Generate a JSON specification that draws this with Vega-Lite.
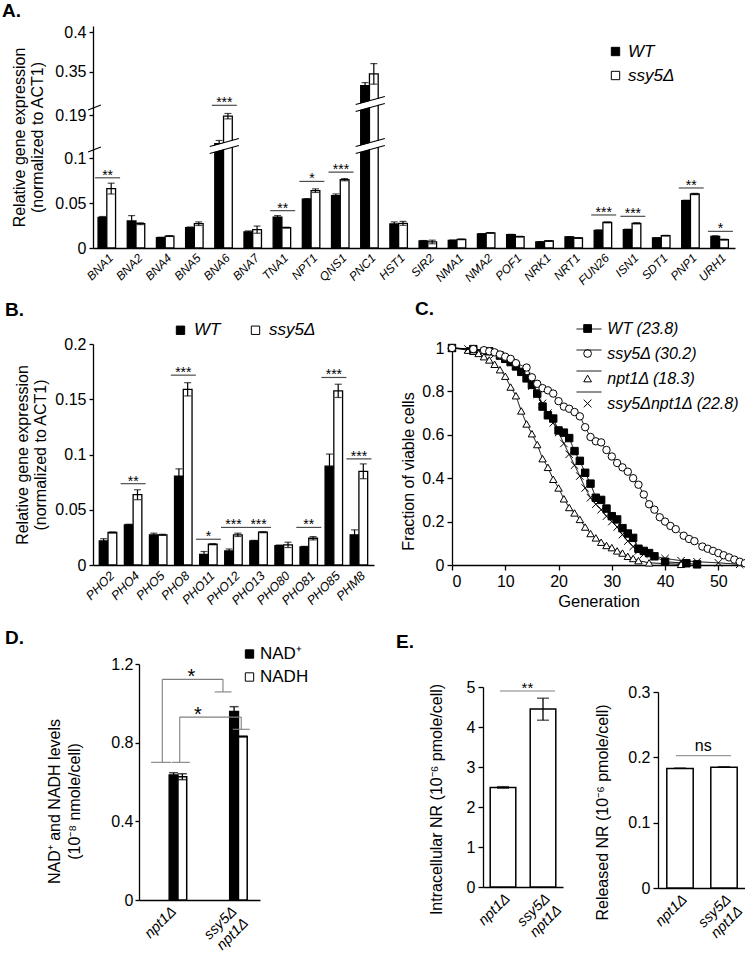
{
  "$schema": "https://vega.github.io/schema/vega-lite/v6.json",
  "background": "white",
  "padding": {"left": 2, "top": 2, "right": 0, "bottom": 0},
  "spacing": 0,
  "resolve": {"scale": {"fill": "independent", "shape": "independent", "color": "independent", "strokeWidth": "independent", "strokeDash": "independent"}, "legend": {"fill": "independent", "shape": "independent", "color": "independent", "strokeWidth": "independent", "strokeDash": "independent"}},
  "config": {
    "font": "Liberation Sans",
    "view": {"stroke": null},
    "axis": {"grid": false, "domainColor": "black", "domainWidth": 1.3, "tickColor": "black", "tickWidth": 1.3, "tickSize": 4, "labelColor": "black", "titleColor": "black", "labelFont": "Liberation Sans", "titleFont": "Liberation Sans", "labelFontSize": 16, "titleFontSize": 16, "titleFontWeight": "normal", "labelPadding": 3, "labelOverlap": false},
    "legend": {"labelFont": "Liberation Sans", "labelColor": "black", "padding": 0},
    "title": {"font": "Liberation Sans", "fontSize": 19, "fontWeight": "bold", "color": "black", "anchor": "start", "frame": "group", "offset": 0, "baseline": "alphabetic"},
    "text": {"font": "Liberation Sans", "color": "black"}
  },
  "datasets": {
    "a": [
      {"gene": "BNA1", "strain": "WT", "value": 0.034, "lo": 0.033, "hi": 0.035},
      {"gene": "BNA1", "strain": "ssy5Δ", "value": 0.066, "lo": 0.06, "hi": 0.072},
      {"gene": "BNA2", "strain": "WT", "value": 0.03, "lo": 0.024, "hi": 0.036},
      {"gene": "BNA2", "strain": "ssy5Δ", "value": 0.027, "lo": 0.026, "hi": 0.028},
      {"gene": "BNA4", "strain": "WT", "value": 0.0115, "lo": 0.011, "hi": 0.012},
      {"gene": "BNA4", "strain": "ssy5Δ", "value": 0.0133, "lo": 0.0128, "hi": 0.0138},
      {"gene": "BNA5", "strain": "WT", "value": 0.0226, "lo": 0.0218, "hi": 0.0234},
      {"gene": "BNA5", "strain": "ssy5Δ", "value": 0.027, "lo": 0.025, "hi": 0.029},
      {"gene": "BNA6", "strain": "WT", "value": 0.149, "lo": 0.136, "hi": 0.162},
      {"gene": "BNA6", "strain": "ssy5Δ", "value": 0.189, "lo": 0.186, "hi": 0.192},
      {"gene": "BNA7", "strain": "WT", "value": 0.018, "lo": 0.017, "hi": 0.019},
      {"gene": "BNA7", "strain": "ssy5Δ", "value": 0.0204, "lo": 0.0164, "hi": 0.0244},
      {"gene": "TNA1", "strain": "WT", "value": 0.0344, "lo": 0.0328, "hi": 0.036},
      {"gene": "TNA1", "strain": "ssy5Δ", "value": 0.0226, "lo": 0.0221, "hi": 0.0231},
      {"gene": "NPT1", "strain": "WT", "value": 0.0544, "lo": 0.0539, "hi": 0.0549},
      {"gene": "NPT1", "strain": "ssy5Δ", "value": 0.0637, "lo": 0.0617, "hi": 0.0657},
      {"gene": "QNS1", "strain": "WT", "value": 0.0581, "lo": 0.0561, "hi": 0.0601},
      {"gene": "QNS1", "strain": "ssy5Δ", "value": 0.0759, "lo": 0.0747, "hi": 0.0771},
      {"gene": "PNC1", "strain": "WT", "value": 0.332, "lo": 0.328, "hi": 0.336},
      {"gene": "PNC1", "strain": "ssy5Δ", "value": 0.347, "lo": 0.334, "hi": 0.36},
      {"gene": "HST1", "strain": "WT", "value": 0.0267, "lo": 0.0244, "hi": 0.029},
      {"gene": "HST1", "strain": "ssy5Δ", "value": 0.0274, "lo": 0.0252, "hi": 0.0296},
      {"gene": "SIR2", "strain": "WT", "value": 0.0078, "lo": 0.0073, "hi": 0.0083},
      {"gene": "SIR2", "strain": "ssy5Δ", "value": 0.0067, "lo": 0.0047, "hi": 0.0087},
      {"gene": "NMA1", "strain": "WT", "value": 0.0085, "lo": 0.0081, "hi": 0.0089},
      {"gene": "NMA1", "strain": "ssy5Δ", "value": 0.0096, "lo": 0.0092, "hi": 0.01},
      {"gene": "NMA2", "strain": "WT", "value": 0.0156, "lo": 0.0152, "hi": 0.016},
      {"gene": "NMA2", "strain": "ssy5Δ", "value": 0.0167, "lo": 0.0163, "hi": 0.0171},
      {"gene": "POF1", "strain": "WT", "value": 0.0148, "lo": 0.0144, "hi": 0.0152},
      {"gene": "POF1", "strain": "ssy5Δ", "value": 0.0126, "lo": 0.0122, "hi": 0.013},
      {"gene": "NRK1", "strain": "WT", "value": 0.0067, "lo": 0.0063, "hi": 0.0071},
      {"gene": "NRK1", "strain": "ssy5Δ", "value": 0.0078, "lo": 0.0074, "hi": 0.0082},
      {"gene": "NRT1", "strain": "WT", "value": 0.0122, "lo": 0.0118, "hi": 0.0126},
      {"gene": "NRT1", "strain": "ssy5Δ", "value": 0.0111, "lo": 0.0107, "hi": 0.0115},
      {"gene": "FUN26", "strain": "WT", "value": 0.0196, "lo": 0.0191, "hi": 0.0201},
      {"gene": "FUN26", "strain": "ssy5Δ", "value": 0.0285, "lo": 0.028, "hi": 0.029},
      {"gene": "ISN1", "strain": "WT", "value": 0.0204, "lo": 0.0199, "hi": 0.0209},
      {"gene": "ISN1", "strain": "ssy5Δ", "value": 0.0274, "lo": 0.0267, "hi": 0.0281},
      {"gene": "SDT1", "strain": "WT", "value": 0.0111, "lo": 0.0107, "hi": 0.0115},
      {"gene": "SDT1", "strain": "ssy5Δ", "value": 0.0137, "lo": 0.0133, "hi": 0.0141},
      {"gene": "PNP1", "strain": "WT", "value": 0.0526, "lo": 0.0521, "hi": 0.0531},
      {"gene": "PNP1", "strain": "ssy5Δ", "value": 0.06, "lo": 0.0593, "hi": 0.0607},
      {"gene": "URH1", "strain": "WT", "value": 0.013, "lo": 0.0124, "hi": 0.0136},
      {"gene": "URH1", "strain": "ssy5Δ", "value": 0.0093, "lo": 0.0088, "hi": 0.0098}
    ],
    "a_sig": [
      {"gene": "BNA1", "y": 0.078, "label": "**"},
      {"gene": "BNA6", "y": 0.242, "label": "***"},
      {"gene": "TNA1", "y": 0.0415, "label": "**"},
      {"gene": "NPT1", "y": 0.074, "label": "*"},
      {"gene": "QNS1", "y": 0.0844, "label": "***"},
      {"gene": "FUN26", "y": 0.0367, "label": "***"},
      {"gene": "ISN1", "y": 0.0352, "label": "***"},
      {"gene": "PNP1", "y": 0.0667, "label": "**"},
      {"gene": "URH1", "y": 0.0185, "label": "*"}
    ],
    "a_brk": [
      {"x": 4.0, "x2": 5.0, "y": 0.1089, "y2": 0.1603, "kind": "gap"},
      {"x": 4.0, "x2": 5.0, "y": 0.105, "y2": 0.1378, "kind": "line"},
      {"x": 4.0, "x2": 5.0, "y": 0.1314, "y2": 0.1642, "kind": "line"},
      {"x": 9.0, "x2": 10.0, "y": 0.1089, "y2": 0.1603, "kind": "gap"},
      {"x": 9.0, "x2": 10.0, "y": 0.105, "y2": 0.1378, "kind": "line"},
      {"x": 9.0, "x2": 10.0, "y": 0.1314, "y2": 0.1642, "kind": "line"},
      {"x": 9.0, "x2": 10.0, "y": 0.1981, "y2": 0.314, "kind": "gap"},
      {"x": 9.0, "x2": 10.0, "y": 0.1942, "y2": 0.2718, "kind": "line"},
      {"x": 9.0, "x2": 10.0, "y": 0.2554, "y2": 0.3184, "kind": "line"},
      {"x": -0.17, "x2": 0.27, "y": 0.1067, "y2": 0.1282, "kind": "line"},
      {"x": -0.17, "x2": 0.27, "y": 0.1959, "y2": 0.2472, "kind": "line"}
    ],
    "b": [
      {"gene": "PHO2", "strain": "WT", "value": 0.0218, "lo": 0.0198, "hi": 0.0238},
      {"gene": "PHO2", "strain": "ssy5Δ", "value": 0.0294, "lo": 0.0289, "hi": 0.0299},
      {"gene": "PHO4", "strain": "WT", "value": 0.0364, "lo": 0.0359, "hi": 0.0369},
      {"gene": "PHO4", "strain": "ssy5Δ", "value": 0.0636, "lo": 0.0591, "hi": 0.0681},
      {"gene": "PHO5", "strain": "WT", "value": 0.0273, "lo": 0.0258, "hi": 0.0288},
      {"gene": "PHO5", "strain": "ssy5Δ", "value": 0.0273, "lo": 0.0268, "hi": 0.0278},
      {"gene": "PHO8", "strain": "WT", "value": 0.0803, "lo": 0.0736, "hi": 0.087},
      {"gene": "PHO8", "strain": "ssy5Δ", "value": 0.159, "lo": 0.153, "hi": 0.165},
      {"gene": "PHO11", "strain": "WT", "value": 0.0097, "lo": 0.0072, "hi": 0.0122},
      {"gene": "PHO11", "strain": "ssy5Δ", "value": 0.0188, "lo": 0.0183, "hi": 0.0193},
      {"gene": "PHO12", "strain": "WT", "value": 0.0127, "lo": 0.0109, "hi": 0.0145},
      {"gene": "PHO12", "strain": "ssy5Δ", "value": 0.0273, "lo": 0.0258, "hi": 0.0288},
      {"gene": "PHO13", "strain": "WT", "value": 0.0218, "lo": 0.0213, "hi": 0.0223},
      {"gene": "PHO13", "strain": "ssy5Δ", "value": 0.0297, "lo": 0.0292, "hi": 0.0302},
      {"gene": "PHO80", "strain": "WT", "value": 0.0176, "lo": 0.0171, "hi": 0.0181},
      {"gene": "PHO80", "strain": "ssy5Δ", "value": 0.0182, "lo": 0.0158, "hi": 0.0206},
      {"gene": "PHO81", "strain": "WT", "value": 0.0164, "lo": 0.0159, "hi": 0.0169},
      {"gene": "PHO81", "strain": "ssy5Δ", "value": 0.0242, "lo": 0.0227, "hi": 0.0257},
      {"gene": "PHO85", "strain": "WT", "value": 0.0894, "lo": 0.0784, "hi": 0.1004},
      {"gene": "PHO85", "strain": "ssy5Δ", "value": 0.1576, "lo": 0.1516, "hi": 0.1636},
      {"gene": "PHM8", "strain": "WT", "value": 0.0273, "lo": 0.0228, "hi": 0.0318},
      {"gene": "PHM8", "strain": "ssy5Δ", "value": 0.0848, "lo": 0.0781, "hi": 0.0915}
    ],
    "b_sig": [
      {"gene": "PHO4", "y": 0.0736, "label": "**"},
      {"gene": "PHO8", "y": 0.1718, "label": "***"},
      {"gene": "PHO11", "y": 0.0233, "label": "*"},
      {"gene": "PHO12", "y": 0.034, "label": "***"},
      {"gene": "PHO13", "y": 0.034, "label": "***"},
      {"gene": "PHO81", "y": 0.034, "label": "**"},
      {"gene": "PHO85", "y": 0.1697, "label": "***"},
      {"gene": "PHM8", "y": 0.096, "label": "***"}
    ],
    "c": [
      {"strain": "npt1Δ", "gen": 0, "frac": 1}, {"strain": "npt1Δ", "gen": 3, "frac": 0.99}, {"strain": "npt1Δ", "gen": 4, "frac": 0.985}, {"strain": "npt1Δ", "gen": 5, "frac": 0.975}, {"strain": "npt1Δ", "gen": 6, "frac": 0.96}, {"strain": "npt1Δ", "gen": 7, "frac": 0.945}, {"strain": "npt1Δ", "gen": 8, "frac": 0.925}, {"strain": "npt1Δ", "gen": 9, "frac": 0.9}, {"strain": "npt1Δ", "gen": 10, "frac": 0.87}, {"strain": "npt1Δ", "gen": 11, "frac": 0.82}, {"strain": "npt1Δ", "gen": 12, "frac": 0.78}, {"strain": "npt1Δ", "gen": 13, "frac": 0.71}, {"strain": "npt1Δ", "gen": 14, "frac": 0.65}, {"strain": "npt1Δ", "gen": 15, "frac": 0.605}, {"strain": "npt1Δ", "gen": 16, "frac": 0.555}, {"strain": "npt1Δ", "gen": 17, "frac": 0.49}, {"strain": "npt1Δ", "gen": 18, "frac": 0.45}, {"strain": "npt1Δ", "gen": 19, "frac": 0.395}, {"strain": "npt1Δ", "gen": 20, "frac": 0.355}, {"strain": "npt1Δ", "gen": 21, "frac": 0.305}, {"strain": "npt1Δ", "gen": 22, "frac": 0.265}, {"strain": "npt1Δ", "gen": 23, "frac": 0.24}, {"strain": "npt1Δ", "gen": 24, "frac": 0.21}, {"strain": "npt1Δ", "gen": 25, "frac": 0.175}, {"strain": "npt1Δ", "gen": 26, "frac": 0.145}, {"strain": "npt1Δ", "gen": 27, "frac": 0.125}, {"strain": "npt1Δ", "gen": 28, "frac": 0.105}, {"strain": "npt1Δ", "gen": 29, "frac": 0.09}, {"strain": "npt1Δ", "gen": 30, "frac": 0.08}, {"strain": "npt1Δ", "gen": 31, "frac": 0.065}, {"strain": "npt1Δ", "gen": 32, "frac": 0.055}, {"strain": "npt1Δ", "gen": 33, "frac": 0.04}, {"strain": "npt1Δ", "gen": 34, "frac": 0.03}, {"strain": "npt1Δ", "gen": 35, "frac": 0.02}, {"strain": "npt1Δ", "gen": 37, "frac": 0.01}, {"strain": "npt1Δ", "gen": 43, "frac": 0.003},
      {"strain": "ssy5Δnpt1Δ", "gen": 0, "frac": 1}, {"strain": "ssy5Δnpt1Δ", "gen": 3, "frac": 0.995}, {"strain": "ssy5Δnpt1Δ", "gen": 6, "frac": 0.985}, {"strain": "ssy5Δnpt1Δ", "gen": 8, "frac": 0.97}, {"strain": "ssy5Δnpt1Δ", "gen": 10, "frac": 0.95}, {"strain": "ssy5Δnpt1Δ", "gen": 12, "frac": 0.92}, {"strain": "ssy5Δnpt1Δ", "gen": 13, "frac": 0.895}, {"strain": "ssy5Δnpt1Δ", "gen": 14, "frac": 0.87}, {"strain": "ssy5Δnpt1Δ", "gen": 15, "frac": 0.825}, {"strain": "ssy5Δnpt1Δ", "gen": 16, "frac": 0.785}, {"strain": "ssy5Δnpt1Δ", "gen": 17, "frac": 0.745}, {"strain": "ssy5Δnpt1Δ", "gen": 18, "frac": 0.7}, {"strain": "ssy5Δnpt1Δ", "gen": 19, "frac": 0.655}, {"strain": "ssy5Δnpt1Δ", "gen": 20, "frac": 0.61}, {"strain": "ssy5Δnpt1Δ", "gen": 21, "frac": 0.56}, {"strain": "ssy5Δnpt1Δ", "gen": 22, "frac": 0.51}, {"strain": "ssy5Δnpt1Δ", "gen": 23, "frac": 0.46}, {"strain": "ssy5Δnpt1Δ", "gen": 24, "frac": 0.41}, {"strain": "ssy5Δnpt1Δ", "gen": 25, "frac": 0.355}, {"strain": "ssy5Δnpt1Δ", "gen": 26, "frac": 0.31}, {"strain": "ssy5Δnpt1Δ", "gen": 27, "frac": 0.28}, {"strain": "ssy5Δnpt1Δ", "gen": 28, "frac": 0.255}, {"strain": "ssy5Δnpt1Δ", "gen": 29, "frac": 0.225}, {"strain": "ssy5Δnpt1Δ", "gen": 30, "frac": 0.2}, {"strain": "ssy5Δnpt1Δ", "gen": 31, "frac": 0.175}, {"strain": "ssy5Δnpt1Δ", "gen": 32, "frac": 0.14}, {"strain": "ssy5Δnpt1Δ", "gen": 33, "frac": 0.11}, {"strain": "ssy5Δnpt1Δ", "gen": 34, "frac": 0.085}, {"strain": "ssy5Δnpt1Δ", "gen": 35, "frac": 0.065}, {"strain": "ssy5Δnpt1Δ", "gen": 36, "frac": 0.05}, {"strain": "ssy5Δnpt1Δ", "gen": 38, "frac": 0.04}, {"strain": "ssy5Δnpt1Δ", "gen": 40, "frac": 0.03}, {"strain": "ssy5Δnpt1Δ", "gen": 43, "frac": 0.02}, {"strain": "ssy5Δnpt1Δ", "gen": 46, "frac": 0.015}, {"strain": "ssy5Δnpt1Δ", "gen": 50, "frac": 0.01}, {"strain": "ssy5Δnpt1Δ", "gen": 54, "frac": 0.003},
      {"strain": "WT", "gen": 0, "frac": 1}, {"strain": "WT", "gen": 4, "frac": 0.995}, {"strain": "WT", "gen": 7, "frac": 0.985}, {"strain": "WT", "gen": 9, "frac": 0.965}, {"strain": "WT", "gen": 10, "frac": 0.95}, {"strain": "WT", "gen": 11, "frac": 0.935}, {"strain": "WT", "gen": 12, "frac": 0.915}, {"strain": "WT", "gen": 13, "frac": 0.89}, {"strain": "WT", "gen": 14, "frac": 0.86}, {"strain": "WT", "gen": 15, "frac": 0.83}, {"strain": "WT", "gen": 16, "frac": 0.79}, {"strain": "WT", "gen": 17, "frac": 0.73}, {"strain": "WT", "gen": 18, "frac": 0.69}, {"strain": "WT", "gen": 19, "frac": 0.675}, {"strain": "WT", "gen": 20, "frac": 0.62}, {"strain": "WT", "gen": 21, "frac": 0.61}, {"strain": "WT", "gen": 22, "frac": 0.585}, {"strain": "WT", "gen": 23, "frac": 0.525}, {"strain": "WT", "gen": 24, "frac": 0.48}, {"strain": "WT", "gen": 25, "frac": 0.425}, {"strain": "WT", "gen": 26, "frac": 0.375}, {"strain": "WT", "gen": 27, "frac": 0.31}, {"strain": "WT", "gen": 28, "frac": 0.3}, {"strain": "WT", "gen": 29, "frac": 0.26}, {"strain": "WT", "gen": 30, "frac": 0.225}, {"strain": "WT", "gen": 31, "frac": 0.21}, {"strain": "WT", "gen": 32, "frac": 0.17}, {"strain": "WT", "gen": 33, "frac": 0.145}, {"strain": "WT", "gen": 34, "frac": 0.125}, {"strain": "WT", "gen": 35, "frac": 0.075}, {"strain": "WT", "gen": 36, "frac": 0.065}, {"strain": "WT", "gen": 37, "frac": 0.055}, {"strain": "WT", "gen": 38, "frac": 0.04}, {"strain": "WT", "gen": 40, "frac": 0.015}, {"strain": "WT", "gen": 44, "frac": 0.008}, {"strain": "WT", "gen": 46, "frac": 0.003},
      {"strain": "ssy5Δ", "gen": 0, "frac": 1}, {"strain": "ssy5Δ", "gen": 4, "frac": 0.995}, {"strain": "ssy5Δ", "gen": 6, "frac": 0.99}, {"strain": "ssy5Δ", "gen": 7, "frac": 0.985}, {"strain": "ssy5Δ", "gen": 8, "frac": 0.98}, {"strain": "ssy5Δ", "gen": 9, "frac": 0.97}, {"strain": "ssy5Δ", "gen": 10, "frac": 0.96}, {"strain": "ssy5Δ", "gen": 11, "frac": 0.95}, {"strain": "ssy5Δ", "gen": 12, "frac": 0.93}, {"strain": "ssy5Δ", "gen": 14, "frac": 0.91}, {"strain": "ssy5Δ", "gen": 15, "frac": 0.865}, {"strain": "ssy5Δ", "gen": 16, "frac": 0.835}, {"strain": "ssy5Δ", "gen": 17, "frac": 0.815}, {"strain": "ssy5Δ", "gen": 18, "frac": 0.805}, {"strain": "ssy5Δ", "gen": 19, "frac": 0.79}, {"strain": "ssy5Δ", "gen": 20, "frac": 0.755}, {"strain": "ssy5Δ", "gen": 21, "frac": 0.73}, {"strain": "ssy5Δ", "gen": 22, "frac": 0.72}, {"strain": "ssy5Δ", "gen": 23, "frac": 0.705}, {"strain": "ssy5Δ", "gen": 24, "frac": 0.685}, {"strain": "ssy5Δ", "gen": 25, "frac": 0.635}, {"strain": "ssy5Δ", "gen": 26, "frac": 0.59}, {"strain": "ssy5Δ", "gen": 27, "frac": 0.57}, {"strain": "ssy5Δ", "gen": 28, "frac": 0.565}, {"strain": "ssy5Δ", "gen": 29, "frac": 0.53}, {"strain": "ssy5Δ", "gen": 30, "frac": 0.5}, {"strain": "ssy5Δ", "gen": 31, "frac": 0.47}, {"strain": "ssy5Δ", "gen": 32, "frac": 0.45}, {"strain": "ssy5Δ", "gen": 33, "frac": 0.43}, {"strain": "ssy5Δ", "gen": 34, "frac": 0.4}, {"strain": "ssy5Δ", "gen": 35, "frac": 0.37}, {"strain": "ssy5Δ", "gen": 36, "frac": 0.325}, {"strain": "ssy5Δ", "gen": 37, "frac": 0.28}, {"strain": "ssy5Δ", "gen": 38, "frac": 0.255}, {"strain": "ssy5Δ", "gen": 39, "frac": 0.22}, {"strain": "ssy5Δ", "gen": 40, "frac": 0.2}, {"strain": "ssy5Δ", "gen": 41, "frac": 0.18}, {"strain": "ssy5Δ", "gen": 42, "frac": 0.165}, {"strain": "ssy5Δ", "gen": 43.5, "frac": 0.135}, {"strain": "ssy5Δ", "gen": 44.5, "frac": 0.12}, {"strain": "ssy5Δ", "gen": 45.5, "frac": 0.11}, {"strain": "ssy5Δ", "gen": 47, "frac": 0.085}, {"strain": "ssy5Δ", "gen": 48, "frac": 0.075}, {"strain": "ssy5Δ", "gen": 49, "frac": 0.065}, {"strain": "ssy5Δ", "gen": 50, "frac": 0.055}, {"strain": "ssy5Δ", "gen": 51, "frac": 0.045}, {"strain": "ssy5Δ", "gen": 52, "frac": 0.035}, {"strain": "ssy5Δ", "gen": 53, "frac": 0.025}, {"strain": "ssy5Δ", "gen": 54, "frac": 0.015}, {"strain": "ssy5Δ", "gen": 55, "frac": 0.008}
    ],
    "d": [
      {"strain": "npt1Δ", "form": "NAD⁺", "value": 0.636, "lo": 0.625, "hi": 0.647},
      {"strain": "npt1Δ", "form": "NADH", "value": 0.627, "lo": 0.612, "hi": 0.642},
      {"strain": "ssy5Δ npt1Δ", "form": "NAD⁺", "value": 0.958, "lo": 0.933, "hi": 0.983},
      {"strain": "ssy5Δ npt1Δ", "form": "NADH", "value": 0.831, "lo": 0.829, "hi": 0.833}
    ],
    "d_br": [
      {"x": 0.385, "x2": 0.385, "y": 0.7, "y2": 1.122},
      {"x": 0.385, "x2": 1.388, "y": 1.122, "y2": 1.122},
      {"x": 1.388, "x2": 1.388, "y": 1.122, "y2": 1.058},
      {"x": 1.25, "x2": 1.53, "y": 1.058, "y2": 1.058},
      {"x": 0.2, "x2": 0.53, "y": 0.7, "y2": 0.7},
      {"x": 0.673, "x2": 0.673, "y": 0.7, "y2": 0.93},
      {"x": 0.673, "x2": 1.69, "y": 0.93, "y2": 0.93},
      {"x": 1.69, "x2": 1.69, "y": 0.93, "y2": 0.868},
      {"x": 1.55, "x2": 1.83, "y": 0.868, "y2": 0.868},
      {"x": 0.54, "x2": 0.84, "y": 0.7, "y2": 0.7}
    ],
    "d_star": [
      {"x": 0.864, "y": 1.122, "label": "*"},
      {"x": 0.975, "y": 0.93, "label": "*"}
    ],
    "e1": [
      {"strain": "npt1Δ", "value": 2.49, "lo": 2.47, "hi": 2.51},
      {"strain": "ssy5Δ npt1Δ", "value": 4.45, "lo": 4.17, "hi": 4.72}
    ],
    "e1_sig": [{"x": 0.425, "x2": 1.8, "xm": 1.11, "y": 4.9, "label": "**"}],
    "e2": [
      {"strain": "npt1Δ", "value": 0.183, "lo": 0.1823, "hi": 0.1837},
      {"strain": "ssy5Δ npt1Δ", "value": 0.185, "lo": 0.1843, "hi": 0.1857}
    ],
    "e2_sig": [{"x": 0.41, "x2": 1.66, "xm": 1.03, "y": 0.2025, "label": "ns"}]
  },
  "vconcat": [
    {
      "width": 642, "height": 222,
      "title": {"text": "A.", "dx": -91, "dy": 1},
      "layer": [
        {
          "layer": [
            {
              "data": {"name": "a"},
              "mark": {"type": "bar", "stroke": "black", "strokeWidth": 1.3},
              "encoding": {
                "x": {"field": "gene", "type": "nominal", "scale": {"type": "band", "domain": ["BNA1","BNA2","BNA4","BNA5","BNA6","BNA7","TNA1","NPT1","QNS1","PNC1","HST1","SIR2","NMA1","NMA2","POF1","NRK1","NRT1","FUN26","ISN1","SDT1","PNP1","URH1"], "paddingInner": 0.347, "paddingOuter": 0.1735}, "axis": {"title": null, "labelAngle": -45, "labelFontSize": 12, "labelFontStyle": "italic", "ticks": false, "labelPadding": 4, "domainWidth": 1.6}},
                "xOffset": {"field": "strain", "type": "nominal", "scale": {"type": "band", "domain": ["WT", "ssy5Δ"], "paddingInner": 0, "paddingOuter": 0}},
                "y": {"field": "value", "type": "quantitative", "scale": {"domain": [0, 0.1089, 0.1603, 0.1981, 0.3127, 0.4076], "range": [222, 124, 116, 82, 75, 0], "nice": false, "zero": false}, "axis": {"title": ["Relative gene expression", "(normalized to ACT1)"], "values": [0, 0.05, 0.1, 0.19, 0.35, 0.4], "format": "~g", "titleLineHeight": 18, "titlePadding": 9}},
                "fill": {"field": "strain", "type": "nominal", "scale": {"domain": ["WT", "ssy5Δ"], "range": ["black", "white"]}, "legend": {"title": null, "orient": "none", "legendX": 514, "legendY": 17, "labelFontSize": 17, "labelFontStyle": "italic", "symbolType": "square", "symbolSize": 70, "symbolStrokeColor": "black", "symbolStrokeWidth": 1, "rowPadding": 6, "labelOffset": 4}}
              }
            },
            {
              "data": {"name": "a"},
              "mark": {"type": "rule", "color": "black", "strokeWidth": 1.2},
              "encoding": {
                "x": {"field": "gene", "type": "nominal", "scale": {"type": "band", "domain": ["BNA1","BNA2","BNA4","BNA5","BNA6","BNA7","TNA1","NPT1","QNS1","PNC1","HST1","SIR2","NMA1","NMA2","POF1","NRK1","NRT1","FUN26","ISN1","SDT1","PNP1","URH1"], "paddingInner": 0.347, "paddingOuter": 0.1735}},
                "xOffset": {"field": "strain", "type": "nominal", "scale": {"type": "band", "domain": ["WT", "ssy5Δ"], "paddingInner": 0, "paddingOuter": 0}},
                "y": {"field": "lo", "type": "quantitative", "scale": {"domain": [0, 0.1089, 0.1603, 0.1981, 0.3127, 0.4076], "range": [222, 124, 116, 82, 75, 0], "nice": false, "zero": false}},
                "y2": {"field": "hi"}
              }
            },
            {
              "data": {"name": "a"},
              "mark": {"type": "tick", "color": "black", "size": 7, "thickness": 1.2},
              "encoding": {
                "x": {"field": "gene", "type": "nominal", "scale": {"type": "band", "domain": ["BNA1","BNA2","BNA4","BNA5","BNA6","BNA7","TNA1","NPT1","QNS1","PNC1","HST1","SIR2","NMA1","NMA2","POF1","NRK1","NRT1","FUN26","ISN1","SDT1","PNP1","URH1"], "paddingInner": 0.347, "paddingOuter": 0.1735}},
                "xOffset": {"field": "strain", "type": "nominal", "scale": {"type": "band", "domain": ["WT", "ssy5Δ"], "paddingInner": 0, "paddingOuter": 0}},
                "y": {"field": "hi", "type": "quantitative", "scale": {"domain": [0, 0.1089, 0.1603, 0.1981, 0.3127, 0.4076], "range": [222, 124, 116, 82, 75, 0], "nice": false, "zero": false}}
              }
            },
            {
              "data": {"name": "a"},
              "mark": {"type": "tick", "color": "black", "size": 7, "thickness": 1.2},
              "encoding": {
                "x": {"field": "gene", "type": "nominal", "scale": {"type": "band", "domain": ["BNA1","BNA2","BNA4","BNA5","BNA6","BNA7","TNA1","NPT1","QNS1","PNC1","HST1","SIR2","NMA1","NMA2","POF1","NRK1","NRT1","FUN26","ISN1","SDT1","PNP1","URH1"], "paddingInner": 0.347, "paddingOuter": 0.1735}},
                "xOffset": {"field": "strain", "type": "nominal", "scale": {"type": "band", "domain": ["WT", "ssy5Δ"], "paddingInner": 0, "paddingOuter": 0}},
                "y": {"field": "lo", "type": "quantitative", "scale": {"domain": [0, 0.1089, 0.1603, 0.1981, 0.3127, 0.4076], "range": [222, 124, 116, 82, 75, 0], "nice": false, "zero": false}}
              }
            },
            {
              "data": {"name": "a_sig"},
              "mark": {"type": "tick", "color": "black", "size": 25, "thickness": 1.2},
              "encoding": {
                "x": {"field": "gene", "type": "nominal", "scale": {"type": "band", "domain": ["BNA1","BNA2","BNA4","BNA5","BNA6","BNA7","TNA1","NPT1","QNS1","PNC1","HST1","SIR2","NMA1","NMA2","POF1","NRK1","NRT1","FUN26","ISN1","SDT1","PNP1","URH1"], "paddingInner": 0.347, "paddingOuter": 0.1735}},
                "y": {"field": "y", "type": "quantitative", "scale": {"domain": [0, 0.1089, 0.1603, 0.1981, 0.3127, 0.4076], "range": [222, 124, 116, 82, 75, 0], "nice": false, "zero": false}}
              }
            },
            {
              "data": {"name": "a_sig"},
              "mark": {"type": "text", "fontSize": 14, "baseline": "alphabetic", "dy": 2},
              "encoding": {
                "x": {"field": "gene", "type": "nominal", "scale": {"type": "band", "domain": ["BNA1","BNA2","BNA4","BNA5","BNA6","BNA7","TNA1","NPT1","QNS1","PNC1","HST1","SIR2","NMA1","NMA2","POF1","NRK1","NRT1","FUN26","ISN1","SDT1","PNP1","URH1"], "paddingInner": 0.347, "paddingOuter": 0.1735}},
                "y": {"field": "y", "type": "quantitative", "scale": {"domain": [0, 0.1089, 0.1603, 0.1981, 0.3127, 0.4076], "range": [222, 124, 116, 82, 75, 0], "nice": false, "zero": false}},
                "text": {"field": "label"}
              }
            }
          ]
        },
        {
          "data": {"name": "a_brk"},
          "mark": {"type": "rule"},
          "encoding": {
            "x": {"field": "x", "type": "quantitative", "scale": {"domain": [0, 22], "nice": false, "zero": false}, "axis": null},
            "x2": {"field": "x2"},
            "y": {"field": "y", "type": "quantitative", "scale": {"domain": [0, 0.1089, 0.1603, 0.1981, 0.3127, 0.4076], "range": [222, 124, 116, 82, 75, 0], "nice": false, "zero": false}},
            "y2": {"field": "y2"},
            "color": {"field": "kind", "type": "nominal", "scale": {"domain": ["gap", "line"], "range": ["white", "black"]}, "legend": null},
            "strokeWidth": {"field": "kind", "type": "nominal", "scale": {"domain": ["gap", "line"], "range": [6, 1.2]}, "legend": null}
          }
        }
      ],
      "resolve": {"scale": {"x": "independent"}}
    },
    {"width": 1, "height": 13, "data": {"values": []}, "mark": "point"},
    {
      "hconcat": [
        {
          "width": 281, "height": 221,
          "title": {"text": "B.", "dx": -88, "dy": 2.5},
          "layer": [
            {
              "data": {"name": "b"},
              "mark": {"type": "bar", "stroke": "black", "strokeWidth": 1.3},
              "encoding": {
                "x": {"field": "gene", "type": "nominal", "scale": {"type": "band", "domain": ["PHO2","PHO4","PHO5","PHO8","PHO11","PHO12","PHO13","PHO80","PHO81","PHO85","PHM8"], "paddingInner": 0.3, "paddingOuter": 0.25}, "axis": {"title": null, "labelAngle": -45, "labelFontSize": 12.5, "labelFontStyle": "italic", "ticks": false, "labelPadding": 4, "domainWidth": 1.6}},
                "xOffset": {"field": "strain", "type": "nominal", "scale": {"type": "band", "domain": ["WT", "ssy5Δ"], "paddingInner": 0, "paddingOuter": 0}},
                "y": {"field": "value", "type": "quantitative", "scale": {"domain": [0, 0.2], "nice": false}, "axis": {"title": ["Relative gene expression", "(normalized to ACT1)"], "values": [0, 0.05, 0.1, 0.15, 0.2], "format": "~g", "titleLineHeight": 18, "titlePadding": 6}},
                "fill": {"field": "strain", "type": "nominal", "scale": {"domain": ["WT", "ssy5Δ"], "range": ["black", "white"]}, "legend": {"title": null, "orient": "none", "direction": "horizontal", "legendX": 79, "legendY": -22.5, "labelFontSize": 17, "labelFontStyle": "italic", "symbolType": "square", "symbolSize": 70, "symbolStrokeColor": "black", "symbolStrokeWidth": 1, "columnPadding": 26, "labelOffset": 5}}
              }
            },
            {
              "data": {"name": "b"},
              "mark": {"type": "rule", "color": "black", "strokeWidth": 1.2},
              "encoding": {
                "x": {"field": "gene", "type": "nominal", "scale": {"type": "band", "domain": ["PHO2","PHO4","PHO5","PHO8","PHO11","PHO12","PHO13","PHO80","PHO81","PHO85","PHM8"], "paddingInner": 0.3, "paddingOuter": 0.25}},
                "xOffset": {"field": "strain", "type": "nominal", "scale": {"type": "band", "domain": ["WT", "ssy5Δ"], "paddingInner": 0, "paddingOuter": 0}},
                "y": {"field": "lo", "type": "quantitative", "scale": {"domain": [0, 0.2], "nice": false}},
                "y2": {"field": "hi"}
              }
            },
            {
              "data": {"name": "b"},
              "mark": {"type": "tick", "color": "black", "size": 7, "thickness": 1.2},
              "encoding": {
                "x": {"field": "gene", "type": "nominal", "scale": {"type": "band", "domain": ["PHO2","PHO4","PHO5","PHO8","PHO11","PHO12","PHO13","PHO80","PHO81","PHO85","PHM8"], "paddingInner": 0.3, "paddingOuter": 0.25}},
                "xOffset": {"field": "strain", "type": "nominal", "scale": {"type": "band", "domain": ["WT", "ssy5Δ"], "paddingInner": 0, "paddingOuter": 0}},
                "y": {"field": "hi", "type": "quantitative", "scale": {"domain": [0, 0.2], "nice": false}}
              }
            },
            {
              "data": {"name": "b"},
              "mark": {"type": "tick", "color": "black", "size": 7, "thickness": 1.2},
              "encoding": {
                "x": {"field": "gene", "type": "nominal", "scale": {"type": "band", "domain": ["PHO2","PHO4","PHO5","PHO8","PHO11","PHO12","PHO13","PHO80","PHO81","PHO85","PHM8"], "paddingInner": 0.3, "paddingOuter": 0.25}},
                "xOffset": {"field": "strain", "type": "nominal", "scale": {"type": "band", "domain": ["WT", "ssy5Δ"], "paddingInner": 0, "paddingOuter": 0}},
                "y": {"field": "lo", "type": "quantitative", "scale": {"domain": [0, 0.2], "nice": false}}
              }
            },
            {
              "data": {"name": "b_sig"},
              "mark": {"type": "tick", "color": "black", "size": 25, "thickness": 1.2},
              "encoding": {
                "x": {"field": "gene", "type": "nominal", "scale": {"type": "band", "domain": ["PHO2","PHO4","PHO5","PHO8","PHO11","PHO12","PHO13","PHO80","PHO81","PHO85","PHM8"], "paddingInner": 0.3, "paddingOuter": 0.25}},
                "y": {"field": "y", "type": "quantitative", "scale": {"domain": [0, 0.2], "nice": false}}
              }
            },
            {
              "data": {"name": "b_sig"},
              "mark": {"type": "text", "fontSize": 14, "baseline": "alphabetic", "dy": 2},
              "encoding": {
                "x": {"field": "gene", "type": "nominal", "scale": {"type": "band", "domain": ["PHO2","PHO4","PHO5","PHO8","PHO11","PHO12","PHO13","PHO80","PHO81","PHO85","PHM8"], "paddingInner": 0.3, "paddingOuter": 0.25}},
                "y": {"field": "y", "type": "quantitative", "scale": {"domain": [0, 0.2], "nice": false}},
                "text": {"field": "label"}
              }
            }
          ]
        },
        {
          "width": 293, "height": 221,
          "title": {"text": "C.", "dx": -37, "dy": 7},
          "layer": [
            {
              "data": {"name": "c"},
              "mark": {"type": "line", "stroke": "black", "strokeWidth": 1},
              "encoding": {
                "x": {"field": "gen", "type": "quantitative", "scale": {"domain": [0, 55], "nice": false}, "axis": {"title": "Generation", "values": [0, 10, 20, 30, 40, 50], "tickSize": 5, "titlePadding": 4, "titleFontSize": 16.5}},
                "y": {"field": "frac", "type": "quantitative", "scale": {"domain": [0, 1], "range": [221, 4], "nice": false}, "axis": {"title": "Fraction of viable cells", "values": [0, 0.2, 0.4, 0.6, 0.8, 1], "format": "~g", "tickSize": 5, "titlePadding": 5, "titleY": 127}},
                "strokeDash": {"field": "strain", "type": "nominal", "scale": {"domain": ["ssy5Δnpt1Δ", "npt1Δ", "ssy5Δ", "WT"], "range": [[1, 0], [1, 0], [1, 0], [1, 0]]}, "legend": {"title": null, "orient": "none", "legendX": 124, "legendY": -28, "symbolType": "stroke", "symbolSize": 625, "symbolStrokeColor": "black", "symbolStrokeWidth": 1, "labelExpr": "''", "labelFontSize": 16, "rowPadding": 0, "labelOffset": 2}}
              }
            },
            {
              "data": {"name": "c"},
              "mark": {"type": "point", "filled": false, "stroke": "black", "strokeWidth": 1, "size": 55, "opacity": 1},
              "encoding": {
                "x": {"field": "gen", "type": "quantitative", "scale": {"domain": [0, 55], "nice": false}},
                "y": {"field": "frac", "type": "quantitative", "scale": {"domain": [0, 1], "range": [221, 4], "nice": false}},
                "shape": {"field": "strain", "type": "nominal", "scale": {"domain": ["WT", "ssy5Δ", "npt1Δ", "ssy5Δnpt1Δ"], "range": ["square", "circle", "triangle-up", "M-1,-1L1,1M-1,1L1,-1"]}, "legend": {"title": null, "orient": "none", "legendX": 127.6, "legendY": -23.5, "symbolSize": 60, "symbolStrokeColor": "black", "symbolStrokeWidth": 1, "symbolFillColor": "white", "labelFontSize": 16, "labelFontStyle": "italic", "rowPadding": 9, "labelOffset": 11.7, "labelExpr": "datum.value == 'WT' ? 'WT (23.8)' : datum.value == 'ssy5Δ' ? 'ssy5Δ (30.2)' : datum.value == 'npt1Δ' ? 'npt1Δ (18.3)' : 'ssy5Δnpt1Δ (22.8)'"}},
                "fill": {"field": "strain", "type": "nominal", "scale": {"domain": ["WT", "ssy5Δ", "npt1Δ", "ssy5Δnpt1Δ"], "range": ["black", "white", "white", "transparent"]}, "legend": null}
              }
            }
          ],
          "resolve": {"scale": {"strokeDash": "independent"}, "legend": {"strokeDash": "independent"}}
        }
      ],
      "spacing": 78,
      "bounds": "flush",
      "resolve": {"scale": {"fill": "independent", "shape": "independent", "strokeDash": "independent"}, "legend": {"fill": "independent", "shape": "independent", "strokeDash": "independent"}}
    },
    {"width": 1, "height": 19, "data": {"values": []}, "mark": "point"},
    {
      "hconcat": [
        {"width": 46, "height": 10, "data": {"values": []}, "mark": "point"},
        {
          "width": 121, "height": 236,
          "title": {"text": "D.", "dx": -134, "dy": 6.5},
          "layer": [
            {
              "layer": [
                {
                  "data": {"name": "d"},
                  "mark": {"type": "bar", "stroke": "black", "strokeWidth": 1.5},
                  "encoding": {
                    "x": {"field": "strain", "type": "nominal", "scale": {"type": "band", "domain": ["npt1Δ", "ssy5Δ npt1Δ"], "paddingInner": 0.42, "paddingOuter": 0.21}, "axis": {"title": null, "labelAngle": -45, "labelFontSize": 14.5, "labelFontStyle": "italic", "ticks": false, "labelPadding": 4, "labelExpr": "split(datum.value, ' ')"}},
                    "xOffset": {"field": "form", "type": "nominal", "scale": {"type": "band", "domain": ["NAD⁺", "NADH"], "range": [0, 35], "paddingInner": 0, "paddingOuter": 0}},
                    "y": {"field": "value", "type": "quantitative", "scale": {"domain": [0, 1.2], "nice": false}, "axis": {"title": ["NAD⁺ and NADH levels", "(10⁻⁸ nmole/cell)"], "values": [0, 0.4, 0.8, 1.2], "format": "~g", "titleLineHeight": 20, "titlePadding": 28, "labelPadding": 2, "titleY": 137}},
                    "fill": {"field": "form", "type": "nominal", "scale": {"domain": ["NAD⁺", "NADH"], "range": ["black", "white"]}, "legend": {"title": null, "orient": "none", "legendX": 102, "legendY": -18.5, "labelFontSize": 17, "symbolType": "square", "symbolSize": 70, "symbolStrokeColor": "black", "symbolStrokeWidth": 1, "rowPadding": 5, "labelOffset": 2}}
                  }
                },
                {
                  "data": {"name": "d"},
                  "mark": {"type": "rule", "color": "black", "strokeWidth": 1.3},
                  "encoding": {
                    "x": {"field": "strain", "type": "nominal", "scale": {"type": "band", "domain": ["npt1Δ", "ssy5Δ npt1Δ"], "paddingInner": 0.42, "paddingOuter": 0.21}},
                    "xOffset": {"field": "form", "type": "nominal", "scale": {"type": "band", "domain": ["NAD⁺", "NADH"], "range": [0, 35], "paddingInner": 0, "paddingOuter": 0}},
                    "y": {"field": "lo", "type": "quantitative", "scale": {"domain": [0, 1.2], "nice": false}},
                    "y2": {"field": "hi"}
                  }
                },
                {
                  "data": {"name": "d"},
                  "mark": {"type": "tick", "color": "black", "size": 9, "thickness": 1.5},
                  "encoding": {
                    "x": {"field": "strain", "type": "nominal", "scale": {"type": "band", "domain": ["npt1Δ", "ssy5Δ npt1Δ"], "paddingInner": 0.42, "paddingOuter": 0.21}},
                    "xOffset": {"field": "form", "type": "nominal", "scale": {"type": "band", "domain": ["NAD⁺", "NADH"], "range": [0, 35], "paddingInner": 0, "paddingOuter": 0}},
                    "y": {"field": "hi", "type": "quantitative", "scale": {"domain": [0, 1.2], "nice": false}}
                  }
                },
                {
                  "data": {"name": "d"},
                  "mark": {"type": "tick", "color": "black", "size": 9, "thickness": 1.5},
                  "encoding": {
                    "x": {"field": "strain", "type": "nominal", "scale": {"type": "band", "domain": ["npt1Δ", "ssy5Δ npt1Δ"], "paddingInner": 0.42, "paddingOuter": 0.21}},
                    "xOffset": {"field": "form", "type": "nominal", "scale": {"type": "band", "domain": ["NAD⁺", "NADH"], "range": [0, 35], "paddingInner": 0, "paddingOuter": 0}},
                    "y": {"field": "lo", "type": "quantitative", "scale": {"domain": [0, 1.2], "nice": false}}
                  }
                }
              ]
            },
            {
              "layer": [
                {
                  "data": {"name": "d_br"},
                  "mark": {"type": "rule", "color": "#808080", "strokeWidth": 1.1},
                  "encoding": {
                    "x": {"field": "x", "type": "quantitative", "scale": {"domain": [0, 2], "nice": false, "zero": false}, "axis": null},
                    "x2": {"field": "x2"},
                    "y": {"field": "y", "type": "quantitative", "scale": {"domain": [0, 1.2], "nice": false}},
                    "y2": {"field": "y2"}
                  }
                },
                {
                  "data": {"name": "d_star"},
                  "mark": {"type": "text", "fontSize": 20, "baseline": "alphabetic", "dy": 4},
                  "encoding": {
                    "x": {"field": "x", "type": "quantitative", "scale": {"domain": [0, 2], "nice": false, "zero": false}, "axis": null},
                    "y": {"field": "y", "type": "quantitative", "scale": {"domain": [0, 1.2], "nice": false}},
                    "text": {"field": "label"}
                  }
                }
              ]
            }
          ],
          "resolve": {"scale": {"x": "independent"}}
        },
        {"width": 223, "height": 10, "data": {"values": []}, "mark": "point"},
        {
          "width": 80, "height": 223,
          "title": {"text": "E.", "dx": -87, "dy": -8},
          "layer": [
            {
              "data": {"name": "e1"},
              "layer": [
                {
                  "mark": {"type": "bar", "fill": "white", "stroke": "black", "strokeWidth": 1.5},
                  "encoding": {
                    "x": {"field": "strain", "type": "nominal", "scale": {"type": "band", "domain": ["npt1Δ", "ssy5Δ npt1Δ"], "paddingInner": 0.36, "paddingOuter": 0.18}, "axis": {"title": null, "labelAngle": -45, "labelFontSize": 14.5, "labelFontStyle": "italic", "ticks": false, "labelPadding": 4, "labelExpr": "split(datum.value, ' ')"}},
                    "y": {"field": "value", "type": "quantitative", "scale": {"domain": [0, 5], "range": [223, 23], "nice": false}, "axis": {"title": "Intracellular NR (10⁻⁶ pmole/cell)", "values": [0, 1, 2, 3, 4, 5], "format": "~g", "tickSize": 5, "titlePadding": 22, "titleY": 135}}
                  }
                },
                {
                  "mark": {"type": "rule", "color": "black", "strokeWidth": 1.3},
                  "encoding": {
                    "x": {"field": "strain", "type": "nominal", "scale": {"type": "band", "domain": ["npt1Δ", "ssy5Δ npt1Δ"], "paddingInner": 0.36, "paddingOuter": 0.18}},
                    "y": {"field": "lo", "type": "quantitative", "scale": {"domain": [0, 5], "range": [223, 23], "nice": false}},
                    "y2": {"field": "hi"}
                  }
                },
                {
                  "mark": {"type": "tick", "color": "black", "size": 12, "thickness": 1.3},
                  "encoding": {
                    "x": {"field": "strain", "type": "nominal", "scale": {"type": "band", "domain": ["npt1Δ", "ssy5Δ npt1Δ"], "paddingInner": 0.36, "paddingOuter": 0.18}},
                    "y": {"field": "hi", "type": "quantitative", "scale": {"domain": [0, 5], "range": [223, 23], "nice": false}}
                  }
                },
                {
                  "mark": {"type": "tick", "color": "black", "size": 12, "thickness": 1.3},
                  "encoding": {
                    "x": {"field": "strain", "type": "nominal", "scale": {"type": "band", "domain": ["npt1Δ", "ssy5Δ npt1Δ"], "paddingInner": 0.36, "paddingOuter": 0.18}},
                    "y": {"field": "lo", "type": "quantitative", "scale": {"domain": [0, 5], "range": [223, 23], "nice": false}}
                  }
                }
              ]
            },
            {
              "data": {"name": "e1_sig"},
              "layer": [
                {
                  "mark": {"type": "rule", "color": "#808080", "strokeWidth": 1},
                  "encoding": {
                    "x": {"field": "x", "type": "quantitative", "scale": {"domain": [0, 2], "nice": false, "zero": false}, "axis": null},
                    "x2": {"field": "x2"},
                    "y": {"field": "y", "type": "quantitative", "scale": {"domain": [0, 5], "range": [223, 23], "nice": false}}
                  }
                },
                {
                  "mark": {"type": "text", "fontSize": 15, "baseline": "alphabetic", "dy": 2},
                  "encoding": {
                    "x": {"field": "xm", "type": "quantitative", "scale": {"domain": [0, 2], "nice": false, "zero": false}, "axis": null},
                    "y": {"field": "y", "type": "quantitative", "scale": {"domain": [0, 5], "range": [223, 23], "nice": false}},
                    "text": {"field": "label"}
                  }
                }
              ]
            }
          ],
          "resolve": {"scale": {"x": "independent"}}
        },
        {"width": 95, "height": 10, "data": {"values": []}, "mark": "point"},
        {
          "width": 88, "height": 224,
          "layer": [
            {
              "data": {"name": "e2"},
              "layer": [
                {
                  "mark": {"type": "bar", "fill": "white", "stroke": "black", "strokeWidth": 1.5},
                  "encoding": {
                    "x": {"field": "strain", "type": "nominal", "scale": {"type": "band", "domain": ["npt1Δ", "ssy5Δ npt1Δ"], "paddingInner": 0.4, "paddingOuter": 0.2}, "axis": {"title": null, "labelAngle": -45, "labelFontSize": 14.5, "labelFontStyle": "italic", "ticks": false, "labelPadding": 4, "labelExpr": "split(datum.value, ' ')"}},
                    "y": {"field": "value", "type": "quantitative", "scale": {"domain": [0, 0.3], "range": [224, 28], "nice": false}, "axis": {"title": "Released NR (10⁻⁶ pmole/cell)", "values": [0, 0.1, 0.2, 0.3], "format": "~g", "tickSize": 5, "titlePadding": 17, "titleY": 148}}
                  }
                },
                {
                  "mark": {"type": "tick", "color": "black", "size": 12, "thickness": 1.3},
                  "encoding": {
                    "x": {"field": "strain", "type": "nominal", "scale": {"type": "band", "domain": ["npt1Δ", "ssy5Δ npt1Δ"], "paddingInner": 0.4, "paddingOuter": 0.2}},
                    "y": {"field": "hi", "type": "quantitative", "scale": {"domain": [0, 0.3], "range": [224, 28], "nice": false}}
                  }
                }
              ]
            },
            {
              "data": {"name": "e2_sig"},
              "layer": [
                {
                  "mark": {"type": "rule", "color": "#808080", "strokeWidth": 1},
                  "encoding": {
                    "x": {"field": "x", "type": "quantitative", "scale": {"domain": [0, 2], "nice": false, "zero": false}, "axis": null},
                    "x2": {"field": "x2"},
                    "y": {"field": "y", "type": "quantitative", "scale": {"domain": [0, 0.3], "range": [224, 28], "nice": false}}
                  }
                },
                {
                  "mark": {"type": "text", "fontSize": 16, "baseline": "alphabetic", "dy": -5},
                  "encoding": {
                    "x": {"field": "xm", "type": "quantitative", "scale": {"domain": [0, 2], "nice": false, "zero": false}, "axis": null},
                    "y": {"field": "y", "type": "quantitative", "scale": {"domain": [0, 0.3], "range": [224, 28], "nice": false}},
                    "text": {"field": "label"}
                  }
                }
              ]
            }
          ],
          "resolve": {"scale": {"x": "independent"}}
        }
      ],
      "spacing": 0,
      "bounds": "flush",
      "resolve": {"scale": {"fill": "independent"}, "legend": {"fill": "independent"}}
    }
  ]
}
